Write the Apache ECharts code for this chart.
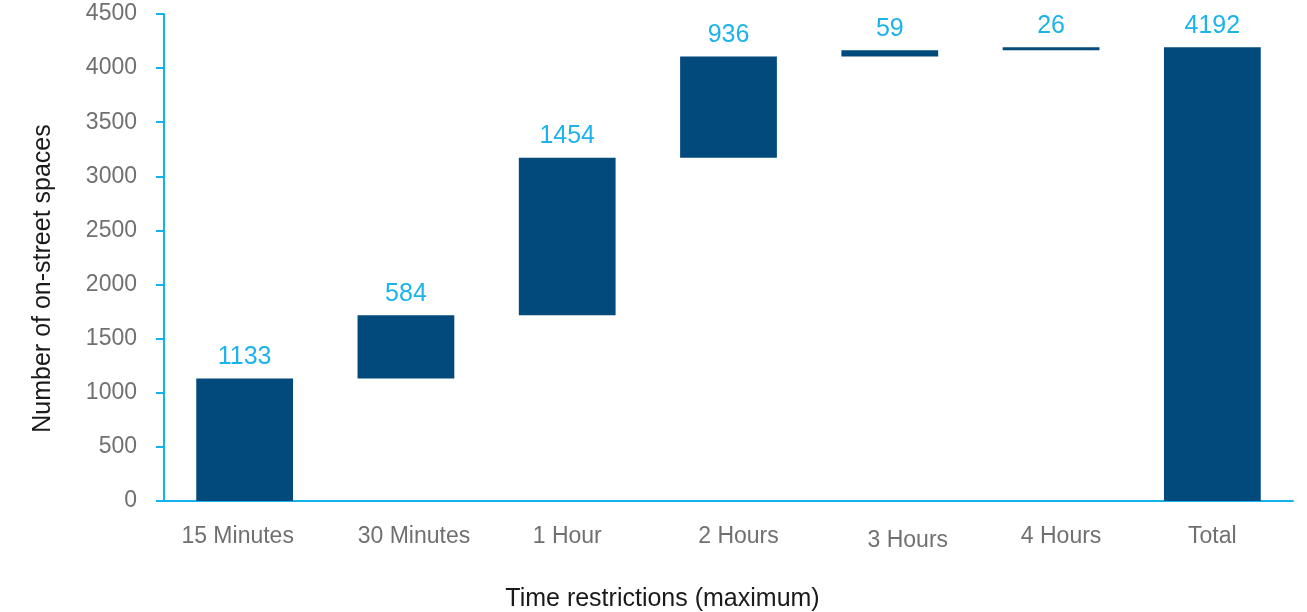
<!DOCTYPE html>
<html>
<head>
<meta charset="utf-8">
<script src="https://cdn.jsdelivr.net/npm/echarts@6/dist/echarts.min.js"></script>
<style>
html, body { margin: 0; padding: 0; background: #fff; }
#chart { width: 1307px; height: 612px; }
</style>
</head>
<body>
<div id="chart"></div>
<script>
// Waterfall of on-street parking spaces by maximum time restriction
const categories = ['15 Minutes', '30 Minutes', '1 Hour', '2 Hours', '3 Hours', '4 Hours', 'Total'];
const increments = [1133, 584, 1454, 936, 59, 26];
const total = 4192;
const yTicks = [0, 500, 1000, 1500, 2000, 2500, 3000, 3500, 4000, 4500];

// Invisible base that lifts each step onto the running sum
const bases = [];
let running = 0;
increments.forEach(v => { bases.push(running); running += v; });
bases.push(0);
const visible = increments.concat([total]);

const FONT = 'Liberation Sans, Helvetica, Arial, sans-serif';
const AXIS_BLUE = '#12b2ec';
const LABEL_GREY = '#707070';

// Small hand-set nudges of the category labels: [horizontal px, vertical px]
const labelNudge = [[-7, 0], [8, 0], [0, 0], [10, 0], [18, 4], [10, 0], [0, 0]];

const rich = {};
labelNudge.forEach(([dx, dy], i) => {
  rich['c' + i] = {
    color: LABEL_GREY, fontSize: 23, fontFamily: FONT,
    padding: [dy, dx < 0 ? -2 * dx : 0, 0, dx > 0 ? 2 * dx : 0]
  };
});

const chart = echarts.init(document.getElementById('chart'), null, { renderer: 'canvas' });
chart.setOption({
  animation: false,
  grid: { left: 164, right: 14, top: 14, bottom: 111, containLabel: false, outerBoundsMode: 'none' },
  xAxis: {
    type: 'category',
    data: categories,
    axisLine: { lineStyle: { color: AXIS_BLUE, width: 2 } },
    axisTick: { show: false },
    axisLabel: {
      interval: 0,
      color: LABEL_GREY, fontSize: 23, fontFamily: FONT, margin: 24,
      formatter: (v, i) => '{c' + i + '|' + v + '}',
      rich: rich
    },
    name: 'Time restrictions (maximum)',
    nameLocation: 'middle',
    nameGap: 86,
    nameTextStyle: { color: '#1a1a1a', fontSize: 25, fontFamily: FONT, padding: [0, 132, 0, 0] }
  },
  yAxis: {
    type: 'value',
    min: yTicks[0],
    max: yTicks[yTicks.length - 1],
    interval: yTicks[1] - yTicks[0],
    splitLine: { show: false },
    axisLine: { show: true, lineStyle: { color: AXIS_BLUE, width: 2 } },
    axisTick: { show: true, length: 8, lineStyle: { color: AXIS_BLUE, width: 2 } },
    axisLabel: { color: LABEL_GREY, fontSize: 23, fontFamily: FONT, margin: 27, formatter: v => String(v) },
    name: 'Number of on-street spaces',
    nameLocation: 'middle',
    nameGap: 108,
    nameTextStyle: { color: '#1a1a1a', fontSize: 25, fontFamily: FONT, padding: [0, 42, 0, 0] }
  },
  series: [
    {
      type: 'bar',
      stack: 'w',
      data: bases,
      itemStyle: { color: 'transparent' },
      emphasis: { disabled: true },
      barWidth: '60%',
      silent: true
    },
    {
      type: 'bar',
      stack: 'w',
      data: visible,
      barWidth: '60%',
      itemStyle: { color: '#034a7c' },
      label: {
        show: true,
        position: 'top',
        distance: 9,
        color: '#1cb3ea',
        fontSize: 25,
        fontFamily: FONT
      }
    }
  ]
});
</script>
</body>
</html>
